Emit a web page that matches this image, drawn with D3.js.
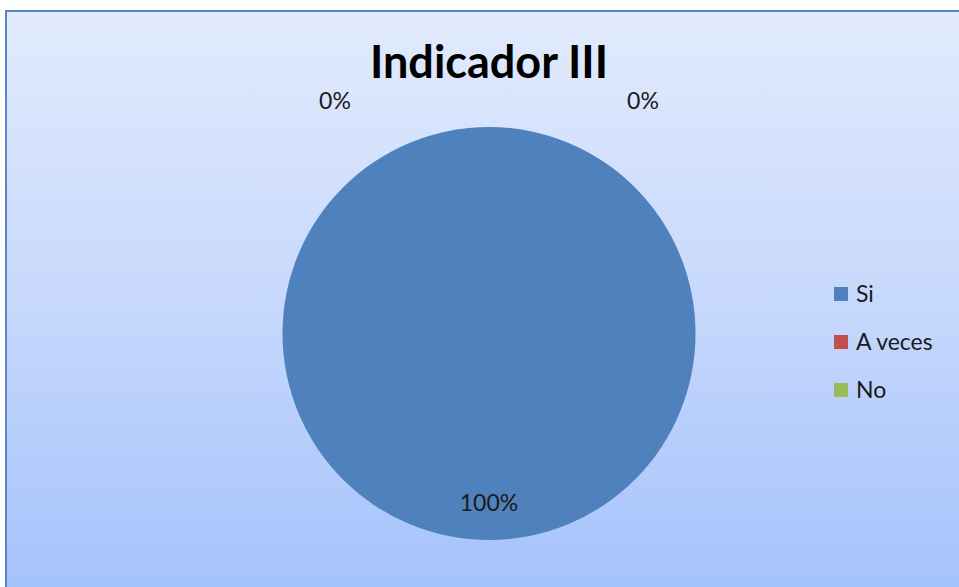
<!DOCTYPE html>
<html><head><meta charset="utf-8">
<script src="https://cdn.jsdelivr.net/npm/d3@7"></script>
<style>html,body{margin:0;padding:0;background:#fff;overflow:hidden}</style>
</head><body>
<svg id="c" width="959" height="587"></svg>
<script>
const categories = ["Si", "A veces", "No"];
const values = [100, 0, 0];
const colors = ["#4F81BD", "#C0504D", "#9BBB59"];
const title = "Indicador III";

const svg = d3.select("#c");
const defs = svg.append("defs");
const g = defs.append("linearGradient").attr("id","bg").attr("x1",0).attr("y1",0).attr("x2",0).attr("y2",1);
g.append("stop").attr("offset","0%").attr("stop-color","#e2ebfd");
g.append("stop").attr("offset","50%").attr("stop-color","#c6d8fc");
g.append("stop").attr("offset","100%").attr("stop-color","#a3c2fb");

svg.append("rect").attr("x",6).attr("y",11).attr("width",960).attr("height",590)
  .attr("fill","url(#bg)").attr("stroke","#5b86c5").attr("stroke-width",2);

const font = "Lato, 'Open Sans', sans-serif";
svg.append("text").attr("x",489).attr("y",78).attr("text-anchor","middle")
  .attr("font-family",font).attr("font-weight","bold").attr("font-size",45)
  .attr("fill","#000").text(title);

const cx = 489, cy = 333.5, r = 206.5;
const pie = d3.pie().sort(null).value(d => d)(values);
const arc = d3.arc().innerRadius(0).outerRadius(r);
const pg = svg.append("g").attr("transform",`translate(${cx},${cy})`);
pg.selectAll("path").data(pie).join("path").attr("d",arc).attr("fill",(d,i)=>colors[i]);

const total = d3.sum(values);
const fmt = v => Math.round(v/total*100) + "%";
const inner = d3.arc().innerRadius(r*0.85).outerRadius(r*0.85);
pie.forEach((d,i)=>{
  let x, y;
  if (d.value > 0) {
    const c = inner.centroid({startAngle: Math.PI, endAngle: Math.PI});
    x = c[0]; y = c[1] + 2;
  } else {
    const c = d3.arc().innerRadius(r+20).outerRadius(r+20).centroid(d);
    const side = i === 1 ? -1 : 1;
    x = c[0] + side*154; y = c[1] + 2;
  }
  pg.append("text").attr("x",x).attr("y",y).attr("text-anchor","middle")
    .attr("font-family",font).attr("font-size",23).attr("fill","#1a1a1a").text(fmt(d.value));
});

const lg = svg.append("g").attr("transform","translate(834,302)");
categories.forEach((c,i)=>{
  const row = lg.append("g").attr("transform",`translate(0,${i*48})`);
  row.append("rect").attr("x",0).attr("y",-15).attr("width",14).attr("height",14).attr("fill",colors[i]);
  row.append("text").attr("x",22).attr("y",0).attr("font-family",font).attr("font-size",23)
    .attr("fill","#1a1a1a").text(c);
});
</script>
</body></html>
